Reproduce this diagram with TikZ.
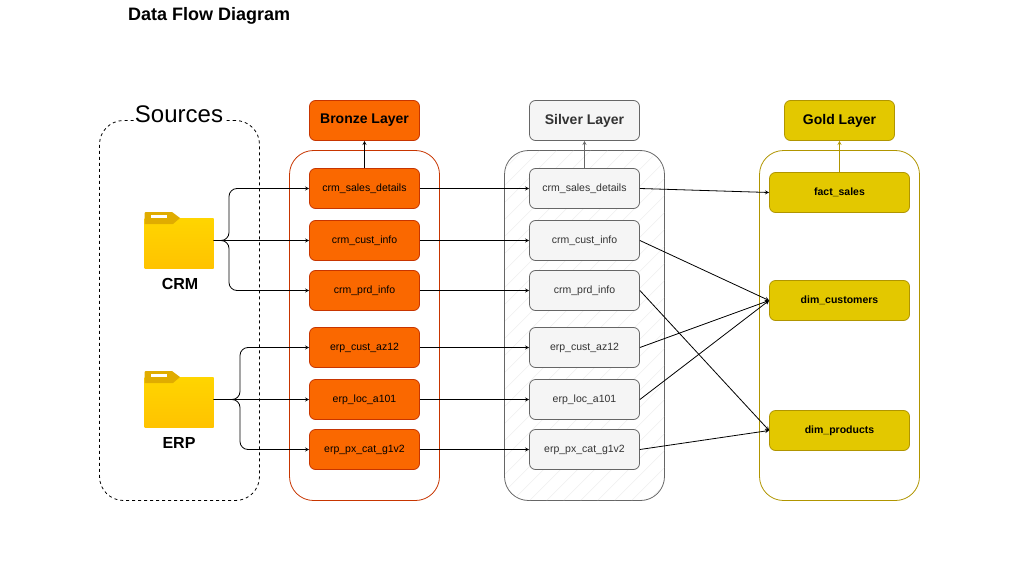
\documentclass[tikz,border=0pt]{standalone}
\usepackage{fontspec}
\setmainfont{Liberation Sans}
\usepackage{xcolor}
\definecolor{bronzefill}{HTML}{FA6800}
\definecolor{bronzeline}{HTML}{C73500}
\definecolor{silverfill}{HTML}{F5F5F5}
\definecolor{silverline}{HTML}{666666}
\definecolor{silvertext}{HTML}{333333}
\definecolor{goldfill}{HTML}{E3C800}
\definecolor{goldline}{HTML}{B09500}
\definecolor{foldertop}{HTML}{FFD500}
\definecolor{folderbot}{HTML}{FFC300}
\definecolor{foldertab}{HTML}{E0AC00}
\definecolor{hatchline}{HTML}{F1F1F1}
\tikzset{
	box/.style={draw,rounded corners=6pt,line width=0.8pt,inner sep=0pt,minimum height=40pt,align=center},
	itemfont/.style={font=\fontsize{10.5}{12}\selectfont},
	layerfont/.style={font=\fontsize{14}{16}\selectfont\bfseries},
	bronzebox/.style={box,fill=bronzefill,draw=bronzeline,minimum width=110pt},
	silverbox/.style={box,fill=silverfill,draw=silverline,text=silvertext,minimum width=110pt},
	goldbox/.style={box,fill=goldfill,draw=goldline,minimum width=140pt},
	group/.style={draw,rounded corners=24pt,line width=0.8pt,inner sep=0pt,minimum width=150pt,minimum height=350pt},
	folder/.style={inner sep=0pt,minimum width=69pt,minimum height=50pt,top color=foldertop,bottom color=folderbot},
	flow/.style={-stealth,line width=0.8pt,rounded corners=8pt},
}
\begin{document}
\begin{tikzpicture}[x=1pt,y=-1pt]
	\useasboundingbox (0,0) rectangle (1032,588);
	\node[anchor=west,font=\fontsize{18}{20}\selectfont\bfseries] (title) at (124.5,16) {Data Flow Diagram};
	% sources
	\node[group,dashed,minimum width=160pt,minimum height=380pt] (sources) at (179.5,310.5) {};
	\node[fill=white,inner sep=1pt,font=\fontsize{24}{26}\selectfont] (sourceslabel) at (179,114.5) {Sources};
	\node[folder] (crm) at (179,243) {};
	\fill[foldertab] (144.5,224) -- (144.5,213) -- (145.5,212) -- (172,212) -- (180,218) -- (173,224) -- cycle;
	\fill[white] (151,215) rectangle (167,218);
	\node[folder] (erp) at (179,402) {};
	\fill[foldertab] (144.5,383) -- (144.5,372) -- (145.5,371) -- (172,371) -- (180,377) -- (173,383) -- cycle;
	\fill[white] (151,374) rectangle (167,377);
	\node[font=\fontsize{16}{18}\selectfont\bfseries] (crmlabel) at (180,284) {CRM};
	\node[font=\fontsize{16}{18}\selectfont\bfseries] (erplabel) at (179,443) {ERP};
	% groups
	\node[group,draw=bronzeline] (bronze) at (364.5,325.5) {};
	\node[group,draw=silverline,minimum width=160pt] (silver) at (584.5,325.5) {};
	\begin{scope}
		\clip[rounded corners=24pt] (505,151) rectangle (664,500);
		\foreach \i in {0,17,...,540}
			\draw[hatchline,line width=0.7pt] (505,151+\i) -- ++(160,-160);
	\end{scope}
	\node[group,draw=goldline,minimum width=160pt] (gold) at (839.5,325.5) {};
	% layer titles
	\node[bronzebox,layerfont] (bronzetitle) at (364.5,120.5) {Bronze Layer};
	\node[silverbox,layerfont] (silvertitle) at (584.5,120.5) {Silver Layer};
	\node[goldbox,layerfont,minimum width=110pt] (goldtitle) at (839.5,120.5) {Gold Layer};
	% bronze tables
	\node[bronzebox,itemfont] (bsales) at (364.5,188.5) {crm\_sales\_details};
	\node[bronzebox,itemfont] (bcust) at (364.5,240.5) {crm\_cust\_info};
	\node[bronzebox,itemfont] (bprd) at (364.5,290.5) {crm\_prd\_info};
	\node[bronzebox,itemfont] (baz) at (364.5,347.5) {erp\_cust\_az12};
	\node[bronzebox,itemfont] (bloc) at (364.5,399.5) {erp\_loc\_a101};
	\node[bronzebox,itemfont] (bcat) at (364.5,449.5) {erp\_px\_cat\_g1v2};
	% silver tables
	\node[silverbox,itemfont] (ssales) at (584.5,188.5) {crm\_sales\_details};
	\node[silverbox,itemfont] (scust) at (584.5,240.5) {crm\_cust\_info};
	\node[silverbox,itemfont] (sprd) at (584.5,290.5) {crm\_prd\_info};
	\node[silverbox,itemfont] (saz) at (584.5,347.5) {erp\_cust\_az12};
	\node[silverbox,itemfont] (sloc) at (584.5,399.5) {erp\_loc\_a101};
	\node[silverbox,itemfont] (scat) at (584.5,449.5) {erp\_px\_cat\_g1v2};
	% gold tables
	\node[goldbox,itemfont,font=\fontsize{10.5}{12}\selectfont\bfseries] (gsales) at (839.5,192.5) {fact\_sales};
	\node[goldbox,itemfont,font=\fontsize{10.5}{12}\selectfont\bfseries] (gcust) at (839.5,300.5) {dim\_customers};
	\node[goldbox,itemfont,font=\fontsize{10.5}{12}\selectfont\bfseries] (gprod) at (839.5,430.5) {dim\_products};
	% sources to bronze
	\coordinate (crmbus) at (229,240.5);
	\coordinate (erpbus) at (240,399.5);
	\draw[flow] (crm.east |- bcust) -- (crmbus) |- (bsales.west);
	\draw[flow] (crm.east |- bcust) -- (bcust.west);
	\draw[flow] (crm.east |- bcust) -- (crmbus) |- (bprd.west);
	\draw[flow] (erp.east |- bloc) -- (erpbus) |- (baz.west);
	\draw[flow] (erp.east |- bloc) -- (bloc.west);
	\draw[flow] (erp.east |- bloc) -- (erpbus) |- (bcat.west);
	% bronze to silver
	\draw[flow] (bsales) -- (ssales);
	\draw[flow] (bcust) -- (scust);
	\draw[flow] (bprd) -- (sprd);
	\draw[flow] (baz) -- (saz);
	\draw[flow] (bloc) -- (sloc);
	\draw[flow] (bcat) -- (scat);
	% silver to gold
	\draw[flow] (ssales.east) -- (gsales.west);
	\draw[flow] (scust.east) -- (gcust.west);
	\draw[flow] (sprd.east) -- (gprod.west);
	\draw[flow] (saz.east) -- (gcust.west);
	\draw[flow] (sloc.east) -- (gcust.west);
	\draw[flow] (scat.east) -- (gprod.west);
	% up to the titles
	\draw[flow] (bsales) -- (bronzetitle);
	\draw[flow,draw=silverline] (ssales) -- (silvertitle);
	\draw[flow,draw=goldline] (gsales) -- (goldtitle);
\end{tikzpicture}
\end{document}
